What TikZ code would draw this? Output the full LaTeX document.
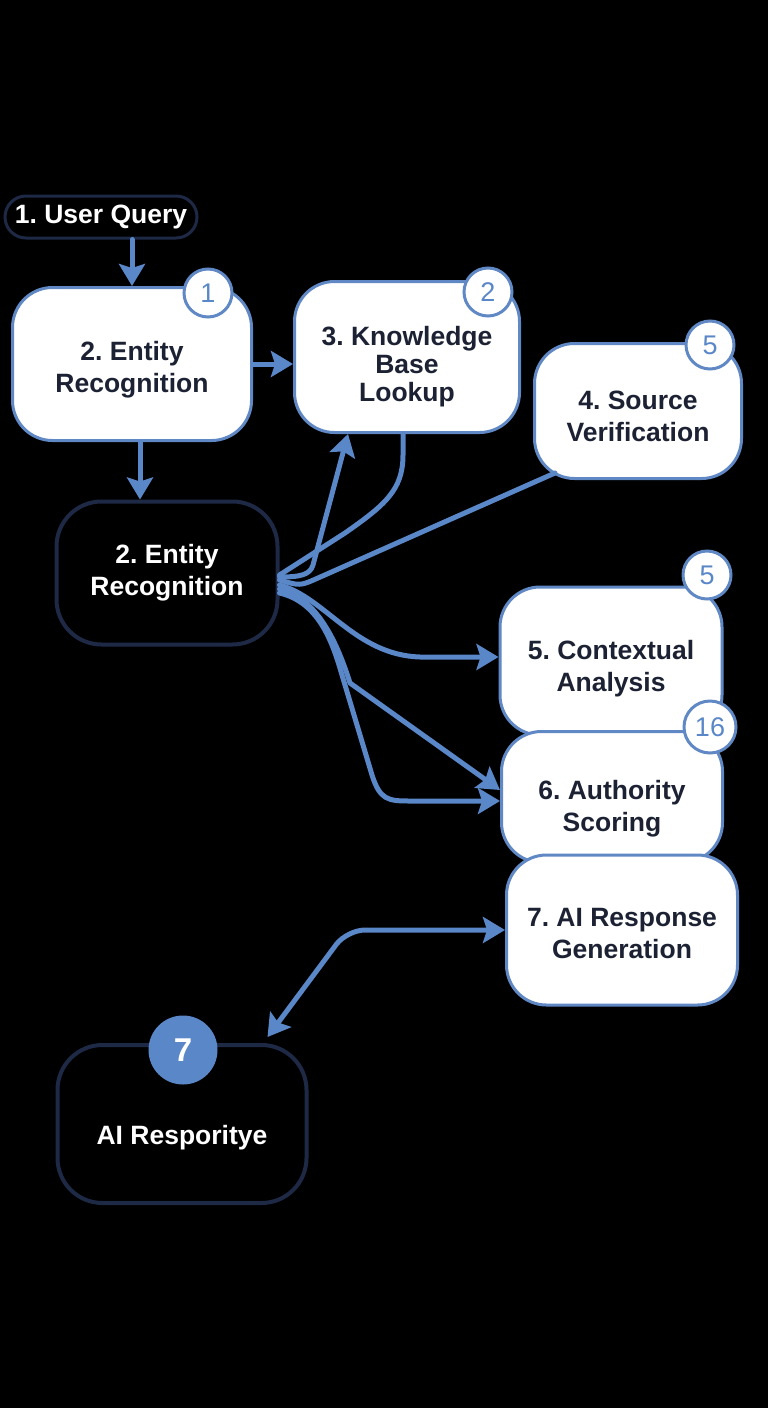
\documentclass[tikz,border=0pt]{standalone}
\usepackage{fontspec}
\setmainfont{Liberation Sans}
\usetikzlibrary{arrows.meta,calc,positioning}
\definecolor{flowblue}{HTML}{5A87C8}
\definecolor{edgeblue}{HTML}{6088C4}
\definecolor{darkline}{HTML}{1E2946}
\definecolor{ink}{HTML}{1C2233}
\newcommand{\topgap}[1]{\rule{0pt}{#1}}
\tikzset{stage/.style={draw=edgeblue,line width=3pt,fill=white,rounded corners=40pt,align=center,text=ink,
    font=\fontsize{26.5}{32}\selectfont\bfseries,inner sep=0pt},
  darkstage/.style={stage,draw=darkline,line width=4pt,fill=black,text=white},
  badge/.style={circle,draw=edgeblue,line width=3pt,fill=white,text=flowblue,minimum size=48pt,inner sep=0pt,
    font=\fontsize{27}{27}\selectfont},
  >={Stealth[length=22pt,width=26pt,inset=4pt]},
  link/.style={draw=flowblue,line width=5pt,line cap=round,line join=round},
  arr/.style={link,->}}

\begin{document}
\frenchspacing
\begin{tikzpicture}[x=1pt,y=1pt]
\fill[black] (0,0) rectangle (768,-1408);
\useasboundingbox (0,0) rectangle (768,-1408);
\node[darkstage,rounded corners=21pt,line width=3pt,minimum width=192pt,minimum height=42pt] (query) at (101,-217) {1. User Query};
\node[stage,minimum width=239pt,minimum height=153pt] (ent) at (132,-364) {\topgap{31pt}2. Entity\\Recognition};
\node[stage,minimum width=225pt,minimum height=151pt,font=\fontsize{26.5}{28}\selectfont\bfseries] (kb) at (407,-357) {\topgap{39pt}3. Knowledge\\Base\\Lookup};
\node[stage,minimum width=207pt,minimum height=135pt] (src) at (638,-411) {\topgap{29pt}4. Source\\Verification};
\node[darkstage,rounded corners=45pt,minimum width=221pt,minimum height=143pt] (entdark) at (167,-573) {2. Entity\\Recognition};
\node[stage,minimum width=222pt,minimum height=148pt] (ctx) at (611,-661) {\topgap{35pt}5. Contextual\\Analysis};
\node[stage,minimum width=221pt,minimum height=131pt] (auth) at (612,-797) {\topgap{43pt}6. Authority\\Scoring};
\node[stage,minimum width=231pt,minimum height=150pt] (gen) at (622,-930) {\topgap{25pt}7. AI Response\\Generation};
\node[darkstage,rounded corners=45pt,minimum width=249pt,minimum height=158pt] (resp) at (182,-1124) {\topgap{47pt}AI Resporitye};
\node[badge] (b1) at (208,-293) {1};
\node[badge] (b2) at (488,-292) {2};
\node[badge] (b4) at (710,-345) {5};
\node[badge] (b5) at (707,-575) {5};
\node[badge,minimum size=52pt] (b6) at (710,-727) {16};
\node[badge,fill=flowblue,draw=flowblue,text=white,minimum size=66pt,font=\fontsize{33}{33}\selectfont\bfseries] (b8) at (183,-1050) {7};
\coordinate (entdrop) at ($(ent.south)+(8,0)$);
\draw[arr] (ent.north |- query.south) -- (ent.north);
\draw[arr] (ent.east) -- (kb.west |- ent.east);
\draw[arr] (entdrop) -- (entdrop |- entdark.north);
\draw[arr] ($(entdark.east)+(0,-4)$) .. controls (300,-577) and (310,-575) .. (313,-565) -- ($(kb.south west)+(55,0)$);
\draw[link] ($(kb.south)+(-4,0)$) -- (403,-455) .. controls (403,-490) and (385,-505) .. (345,-533) -- ($(entdark.east)+(0,-2)$);
\draw[link] ($(src.south west)+(22,7)$) -- (318,-578) .. controls (300,-586) .. ($(entdark.east)+(0,-7)$);
\draw[arr] ($(entdark.east)+(0,-12)$) .. controls (325,-597) and (355,-655) .. (420,-657) -- ($(ctx.west)+(0,4)$);
\draw[arr] ($(entdark.east)+(0,-16)$) .. controls (318,-598) and (338,-645) .. (350,-683) -- ($(auth.west)+(0,7)$);
\draw[arr] ($(entdark.east)+(0,-20)$) .. controls (318,-602) and (332,-640) .. (342,-675) -- (372,-775) .. controls (380,-800) and (388,-801) .. (410,-801) -- ($(auth.west)+(0,-4)$);
\draw[link,<->,rounded corners=18pt] (gen.west) -- (347,-930) -- ($(resp.north east)+(-41,6)$);
\end{tikzpicture}
\end{document}
